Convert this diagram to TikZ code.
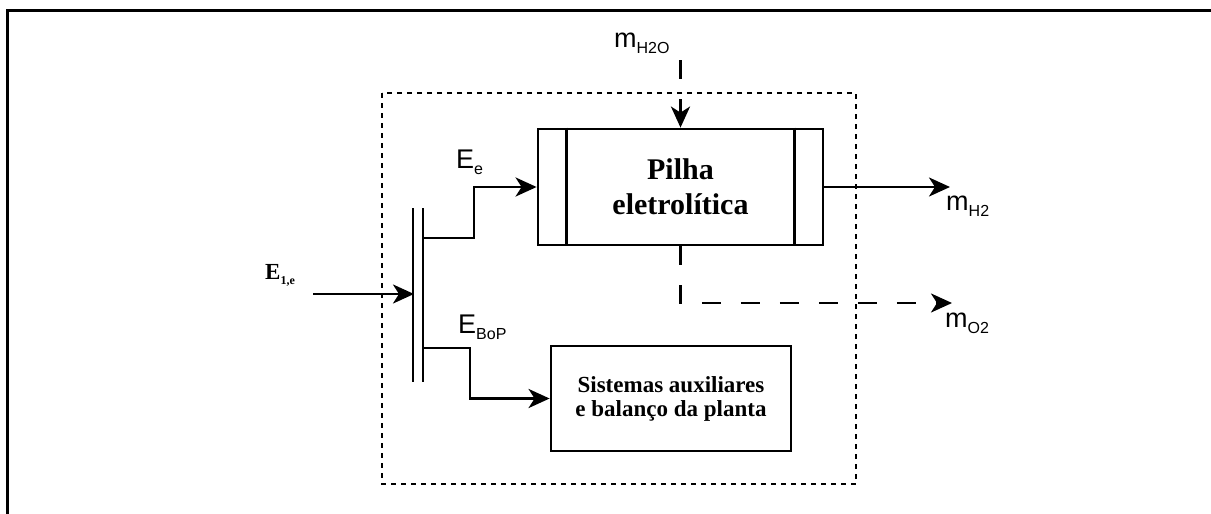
\documentclass[tikz,border=0pt]{standalone}
\usepackage{fontspec}
\setmainfont{Liberation Serif}
\newfontfamily\sansf{Liberation Sans}
\usetikzlibrary{arrows.meta}
\newcommand\flowlbl[2]{{\sansf\fontsize{27}{27}\selectfont #1\raisebox{-6pt}{\fontsize{16}{16}\selectfont #2}}}
\begin{document}
\begin{tikzpicture}[x=1pt,y=-1pt,
  ln/.style={line width=2.8pt},
  arr/.style={ln,-{Stealth[length=21pt,width=19pt,inset=6pt]}},
  darr/.style={arr,dash pattern=on 19pt off 20pt},
  box/.style={draw,line width=2.8pt,inner sep=0pt,align=center},
  lbl/.style={anchor=base west,inner sep=0pt},
  bigtxt/.style={font=\bfseries\fontsize{30}{35}\selectfont},
  smalltxt/.style={font=\bfseries\fontsize{23}{24}\selectfont}
]
\useasboundingbox (0,0) rectangle (1211,514);
\fill[white] (0,0) rectangle (1211,514);
% frame
\draw[line width=3pt] (7,514) -- (7,10) -- (1211,10);
% dotted system boundary
\draw[line width=2.8pt,dash pattern=on 5pt off 5pt] (382,93) rectangle (856,484);

% boxes
\node[box,bigtxt,minimum width=285pt,minimum height=116pt] (stack) at (680.5,187) {Pilha\\eletrolítica};
\draw[ln] ([xshift=30pt]stack.north west) -- ([xshift=30pt]stack.south west);
\draw[ln] ([xshift=-30pt]stack.north east) -- ([xshift=-30pt]stack.south east);
\node[box,smalltxt,minimum width=240pt,minimum height=105pt] (aux) at (671,398.5) {Sistemas auxiliares\\e balanço da planta};

% bus bars
\coordinate (b1t) at (413,208);
\coordinate (b1b) at (413,382);
\coordinate (b2t) at (423,208);
\coordinate (b2b) at (423,382);
\draw[ln] (b1t) -- (b1b);
\draw[ln] (b2t) -- (b2b);

% input
\coordinate (inp) at (313,294);
\coordinate (busin) at (414,294);
\draw[arr] (inp) -- (busin);
\node[lbl] (elab) at (265,279) {\bfseries\fontsize{23}{23}\selectfont E\raisebox{-5pt}{\fontsize{12}{12}\selectfont 1,e}};

% E_e branch
\coordinate (ee0) at (423,238);
\draw[arr] (ee0) -- (474,238) |- (stack.west);
\node[lbl] (eelab) at (456,168) {\flowlbl{E}{e}};

% E_BoP branch
\coordinate (eb0) at (423,348);
\draw[arr] (eb0) -- (470,348) |- (aux.west);
\node[lbl] (eblab) at (458,333) {\flowlbl{E}{BoP}};

% water in
\coordinate (h2oin) at (680.5,60);
\draw[darr] (h2oin) -- (stack.north);
\node[lbl] (h2olab) at (614,47) {\flowlbl{m}{H2O}};

% hydrogen out
\coordinate (h2out) at (950,187);
\draw[arr] (stack.east) -- (h2out);
\node[lbl] (h2lab) at (946,210) {\flowlbl{m}{H2}};

% oxygen out
\coordinate (o2out) at (952,303);
\draw[darr] (stack.south) |- (o2out);
\node[lbl] (o2lab) at (945,327) {\flowlbl{m}{O2}};
\end{tikzpicture}
\end{document}
